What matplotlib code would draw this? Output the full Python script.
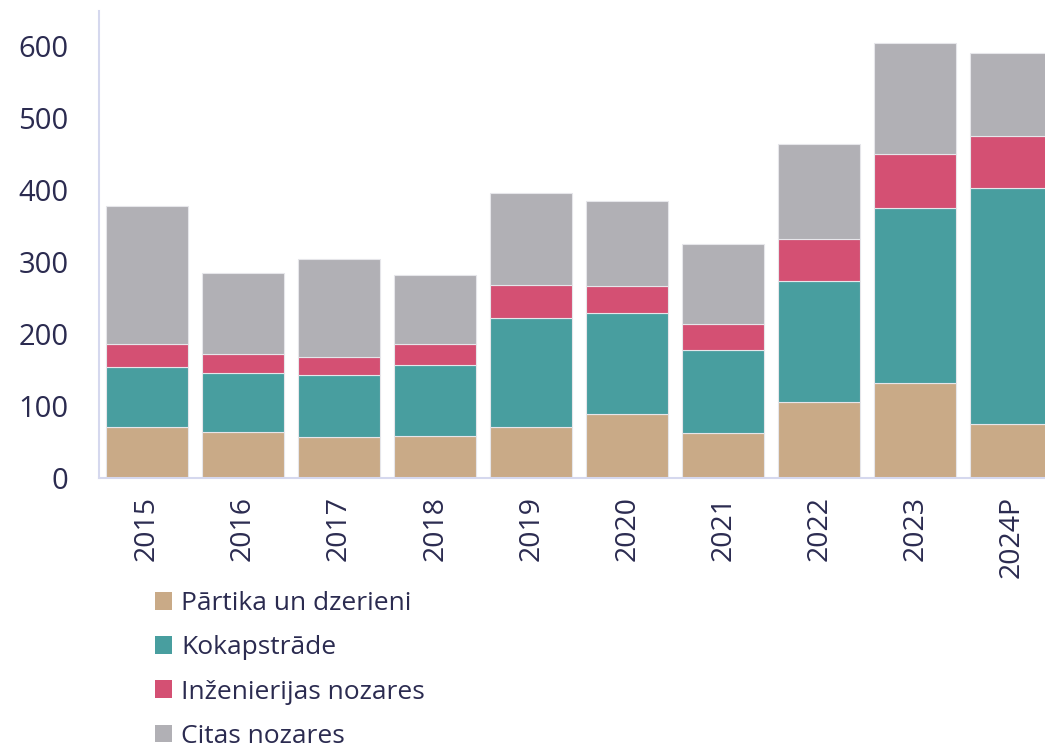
import matplotlib
matplotlib.use("Agg")
import matplotlib.pyplot as plt
from matplotlib.patches import Patch

plt.rcParams['font.family'] = ['Open Sans', 'DejaVu Sans']

years = ["2015", "2016", "2017", "2018", "2019", "2020", "2021", "2022", "2023", "2024P"]
food = [71, 64, 57, 58, 71, 89, 62, 106, 132, 75]
wood = [83, 82, 86, 99, 151, 140, 116, 168, 242, 328]
eng = [32, 26, 25, 29, 46, 38, 36, 58, 76, 72]
other = [192, 113, 136, 96, 128, 118, 111, 132, 153, 115]

labels = ["Pārtika un dzerieni", "Kokapstrāde", "Inženierijas nozares", "Citas nozares"]
colors = ["#C9AA87", "#489E9F", "#D45073", "#B1B0B5"]
text_color = "#2B2B50"

fig = plt.figure(figsize=(10.45, 7.44), dpi=100)
ax = fig.add_axes([99/1045, (744-478)/744, 1 - 99/1045, (478-11)/744])

x = list(range(len(years)))
bottom = [0]*len(years)
for vals, c in zip([food, wood, eng, other], colors):
    ax.bar(x, vals, bottom=bottom, width=0.855, color=c, edgecolor="#E6E6EA", linewidth=0.8)
    bottom = [b + v for b, v in zip(bottom, vals)]

ax.set_xlim(-0.5, 9.35)
ax.set_ylim(0, 648)
ax.set_yticks([0, 100, 200, 300, 400, 500, 600])
ax.set_xticks(x)
ax.set_xticklabels(years, rotation=90)
ax.tick_params(axis='both', length=0, colors=text_color)
ax.tick_params(axis='y', pad=22, labelsize=21)
ax.tick_params(axis='x', pad=13, labelsize=20.5)
for s in ['top', 'right']:
    ax.spines[s].set_visible(False)
for s in ['left', 'bottom']:
    ax.spines[s].set_color("#D5D8EE")
    ax.spines[s].set_linewidth(1.5)

handles = [Patch(facecolor=c, edgecolor='none') for c in colors]
leg = fig.legend(handles, labels, loc='upper left', bbox_to_anchor=(155/1045, 1 - 591/744),
                 frameon=False, fontsize=19, handlelength=0.65, handleheight=0.65,
                 handletextpad=0.34, labelspacing=0.73, borderaxespad=0, borderpad=0)
for t in leg.get_texts():
    t.set_color(text_color)

fig.savefig("out.png", dpi=100)
